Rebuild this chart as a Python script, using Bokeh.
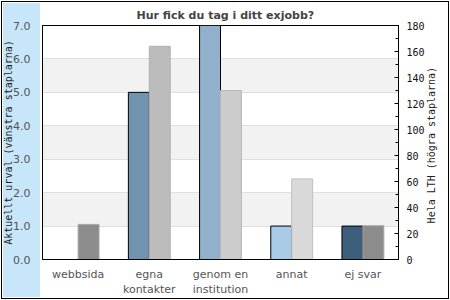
from bokeh.plotting import figure
from bokeh.models import (Range1d, LinearAxis, FactorRange,
                          SingleIntervalTicker, NumeralTickFormatter, ColumnDataSource)
from bokeh.transform import dodge
from bokeh.embed import file_html
from bokeh.resources import INLINE
import math

title = "Hur fick du tag i ditt exjobb?"
categories = ["webbsida", "egna\nkontakter", "genom en\ninstitution", "annat", "ej svar"]
left_values = [0, 5, 7, 1, 1]            # Aktuellt urval (left axis)
right_values = [27, 164, 130, 62, 26]    # Hela LTH (right axis)
left_colors = ["#7094b0", "#7094b0", "#90b0cb", "#a9cbe7", "#3e5f7b"]
right_colors = ["#8c8c8c", "#bcbcbc", "#cccccc", "#d9d9d9", "#8c8c8c"]
right_lines = ["#a8a8a8", "#b0b0b0", "#b8b8b8", "#bfbfbf", "#a8a8a8"]
left_label = "Aktuellt urval (vänstra staplarna)"
right_label = "Hela LTH (högra staplarna)"

src = ColumnDataSource(dict(cat=categories, lv=left_values, rv=right_values,
                            lc=left_colors, rc=right_colors, rl=right_lines))

p = figure(width=450, height=300, output_backend="svg", toolbar_location=None,
           title=title,
           x_range=FactorRange(*categories, range_padding=0),
           y_range=Range1d(0, 7),
           min_border_left=41, min_border_right=52, min_border_top=25, min_border_bottom=41)
p.extra_y_ranges = {"right": Range1d(0, 180)}
p.background_fill_color = "white"
p.border_fill_color = None
p.outline_line_color = "black"
p.outline_line_width = 1
# light blue side panel and outer frame drawn as CSS behind/around the canvas
p.styles = {
    "background-color": "white",
    "background-image": "linear-gradient(#c8e6fa, #c8e6fa)",
    "background-size": "37px 294px",
    "background-position": "3px 3px",
    "background-repeat": "no-repeat",
    "outline": "1px solid black",
    "outline-offset": "-2px",
}

p.title.text_font = "DejaVu Sans"
p.title.text_font_style = "bold"
p.title.text_font_size = "11px"
p.title.text_color = "#444444"
p.title.align = "left"
p.title.offset = 94
p.title.standoff = 7

# left axis
yax = p.yaxis[0]
yax.ticker = SingleIntervalTicker(interval=1)
yax.formatter = NumeralTickFormatter(format="0.0")
yax.major_tick_in = 0
yax.major_tick_out = 0
yax.minor_tick_line_color = None
yax.axis_line_color = "black"
yax.major_label_text_font = "DejaVu Sans"
yax.major_label_text_font_size = "11px"
yax.major_label_text_color = "#555555"
yax.major_label_standoff = 8
yax.axis_label = left_label
yax.axis_label_text_font = "DejaVu Sans Mono"
yax.axis_label_text_font_size = "10px"
yax.axis_label_text_font_style = "normal"
yax.axis_label_text_color = "#222222"
yax.axis_label_standoff = -4

# right axis
rax = LinearAxis(y_range_name="right", ticker=SingleIntervalTicker(interval=20, num_minor_ticks=2))
rax.major_tick_in = 4
rax.major_tick_out = 0
rax.minor_tick_in = 3
rax.minor_tick_out = 0
rax.major_tick_line_color = "black"
rax.minor_tick_line_color = "black"
rax.axis_line_color = "black"
rax.major_label_text_font = "DejaVu Sans Mono"
rax.major_label_text_font_size = "10px"
rax.major_label_text_color = "#111111"
rax.major_label_standoff = 8
# label reads bottom-to-top, anchored at the bottom of the frame; leading
# no-break spaces lift it to the reference position
rax.axis_label = "\u00a0" * 6 + right_label
rax.axis_label_text_font = "DejaVu Sans Mono"
rax.axis_label_text_font_size = "10px"
rax.axis_label_text_font_style = "normal"
rax.axis_label_text_color = "#222222"
rax.axis_label_standoff = 4
rax.axis_label_orientation = math.pi / 2
rax.axis_label_align = "start"
p.add_layout(rax, "right")

# x axis
xax = p.xaxis[0]
xax.major_tick_in = 0
xax.major_tick_out = 0
xax.axis_line_color = "black"
xax.major_label_text_font = "DejaVu Sans"
xax.major_label_text_font_size = "11px"
xax.major_label_text_color = "#555555"
xax.major_label_standoff = 8

# grid
p.xgrid.grid_line_color = None
p.ygrid.ticker = SingleIntervalTicker(interval=1)
p.ygrid.grid_line_color = "#e0e0e0"
p.ygrid.band_fill_color = "#f2f2f2"
p.ygrid.band_fill_alpha = 1

w = 0.294
p.vbar(x=dodge("cat", -w / 2, range=p.x_range), top="lv", width=w, source=src,
       fill_color="lc", line_color="black", line_width=1)
p.vbar(x=dodge("cat", w / 2, range=p.x_range), top="rv", width=w, source=src,
       y_range_name="right", fill_color="rc", line_color="rl", line_width=1)

open("out.html", "w").write(file_html(p, INLINE))
